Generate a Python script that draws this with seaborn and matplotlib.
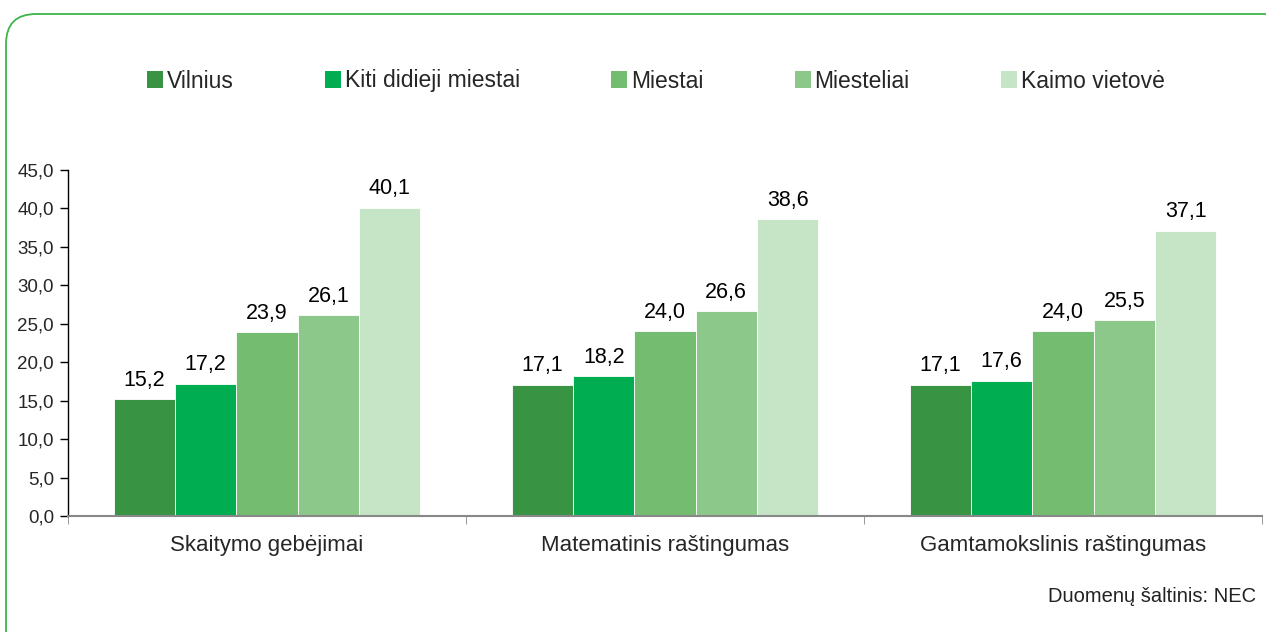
import numpy as np
import pandas as pd
import matplotlib
matplotlib.use("Agg")
import matplotlib.pyplot as plt
from matplotlib.patches import FancyBboxPatch
from matplotlib.ticker import FixedLocator
import seaborn as sns

# Data
categories = ["Skaitymo gebėjimai", "Matematinis raštingumas", "Gamtamokslinis raštingumas"]
groups = ["Vilnius", "Kiti didieji miestai", "Miestai", "Miesteliai", "Kaimo vietovė"]
vilnius = [15.2, 17.1, 17.1]
kiti = [17.2, 18.2, 17.6]
miestai = [23.9, 24.0, 24.0]
miesteliai = [26.1, 26.6, 25.5]
kaimo = [40.1, 38.6, 37.1]
colors = ["#389442", "#00AD50", "#74BD70", "#8CC88A", "#C5E5C6"]

rows = []
for g, vals in zip(groups, [vilnius, kiti, miestai, miesteliai, kaimo]):
    for c, v in zip(categories, vals):
        rows.append({"Sritis": c, "Grupė": g, "Reikšmė": v})
df = pd.DataFrame(rows)

sns.set_style("white")
plt.rcParams["font.family"] = ["Liberation Sans", "DejaVu Sans"]

fig = plt.figure(figsize=(12.66, 6.32), dpi=100)

# rounded green frame (inches)
frame = FancyBboxPatch((0.06, -1.0), 13.0, 6.32 - 0.14 + 1.0,
                       boxstyle="round,pad=0,rounding_size=0.3",
                       transform=fig.dpi_scale_trans, facecolor="none",
                       edgecolor="#3DB54A", linewidth=1.3, zorder=-1)
fig.patches.append(frame)

ax = fig.add_axes([68 / 1266, 1 - 516 / 632, 1194 / 1266, 346 / 632])
ax.set_facecolor("none")

sns.barplot(data=df, x="Sritis", y="Reikšmė", hue="Grupė", order=categories,
            hue_order=groups, palette=colors, width=0.77, saturation=1,
            edgecolor="white", linewidth=0.6, ax=ax)

for cont in ax.containers:
    ax.bar_label(cont, labels=[f"{v:.1f}".replace(".", ",") for v in cont.datavalues],
                 padding=6, fontsize=15.5, color="black")

ax.set_xlim(-0.5, 2.5)
ax.set_ylim(0, 45)
ax.set_yticks(np.arange(0, 46, 5))
ax.set_yticklabels([f"{v:.1f}".replace(".", ",") for v in np.arange(0, 46, 5)], fontsize=13.5)
ax.tick_params(axis="y", direction="out", length=6, width=1, color="black", pad=4, left=True)
ax.tick_params(axis="x", which="major", length=0, labelsize=16, pad=14)
ax.xaxis.set_minor_locator(FixedLocator([-0.5, 0.5, 1.5, 2.5]))
ax.tick_params(axis="x", which="minor", direction="out", length=6, color="#888888", bottom=True)
ax.set_xlabel("")
ax.set_ylabel("")

for s in ["top", "right"]:
    ax.spines[s].set_visible(False)
ax.spines["left"].set_color("black")
ax.spines["left"].set_linewidth(1)
ax.spines["bottom"].set_color("#888888")
ax.spines["bottom"].set_linewidth(1.5)

ax.legend_.remove()
handles = [plt.Rectangle((0, 0), 1, 1, facecolor=c, edgecolor="none") for c in colors]
fig.legend(handles, groups, loc="center", bbox_to_anchor=(0.518, 1 - 81 / 632), ncol=5,
           frameon=False, fontsize=16.5, handlelength=0.7, handleheight=0.7,
           handletextpad=0.15, columnspacing=4.0)

fig.text(1256 / 1266, 1 - 597 / 632, "Duomenų šaltinis: NEC", ha="right", va="center",
         fontsize=14.5, color="#222222")

fig.savefig("out.png", dpi=100)
